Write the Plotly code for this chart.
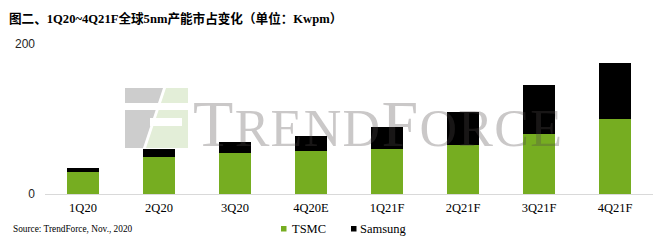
import plotly.graph_objects as go

quarters = ["1Q20", "2Q20", "3Q20", "4Q20E", "1Q21F", "2Q21F", "3Q21F", "4Q21F"]
tsmc = [30, 50, 55, 58, 60, 65, 80, 100]
samsung = [5, 10, 15, 20, 30, 45, 65, 75]
series_names = ["TSMC", "Samsung"]
colors = ["#76AD21", "#000000"]

W, H = 666, 244
L, R, T, B = 45, 13, 44, 50
PW, PH = W - L - R, H - T - B


def px(x):
    return (x - L) / PW


def py(y):
    return (H - B - y) / PH


fig = go.Figure()
for name, vals, col in zip(series_names, [tsmc, samsung], colors):
    fig.add_trace(go.Bar(x=quarters, y=vals, name=name, marker_color=col,
                         marker_line_width=0, width=0.41, showlegend=False))

serif = "Liberation Serif, Times New Roman, serif"

shapes = []
# watermark logo (decorative)
shapes.append(dict(type="path", xref="paper", yref="paper", layer="below",
                   path=f"M {px(125)},{py(88)} L {px(163)},{py(88)} L {px(143)},{py(148)} L {px(125)},{py(148)} Z",
                   fillcolor="#cdcdcd", line_width=0))
shapes.append(dict(type="path", xref="paper", yref="paper", layer="below",
                   path=f"M {px(166)},{py(88)} L {px(188)},{py(88)} L {px(188)},{py(148)} L {px(146)},{py(148)} Z",
                   fillcolor="#e3eed8", line_width=0))
shapes.append(dict(type="rect", xref="paper", yref="paper", layer="below",
                   x0=px(124), x1=px(189), y0=py(110), y1=py(103), fillcolor="white", line_width=0))
shapes.append(dict(type="rect", xref="paper", yref="paper", layer="below",
                   x0=px(150), x1=px(182), y0=py(126), y1=py(118), fillcolor="white", line_width=0))
# legend squares
shapes.append(dict(type="rect", xref="paper", yref="paper",
                   x0=px(281), x1=px(286.5), y0=py(231.5), y1=py(226), fillcolor=colors[0], line_width=0))
shapes.append(dict(type="rect", xref="paper", yref="paper",
                   x0=px(351), x1=px(356.5), y0=py(231.5), y1=py(226), fillcolor=colors[1], line_width=0))

annotations = [
    dict(text="<b>图二、1Q20~4Q21F全球5nm产能市占变化（单位：Kwpm）</b>", xref="paper", yref="paper",
         x=px(7), y=py(18), xanchor="left", yanchor="middle", showarrow=False,
         font=dict(family="Liberation Serif, Noto Sans CJK SC", size=12.6, color="#000000")),
    dict(text="Source: TrendForce, Nov., 2020", xref="paper", yref="paper",
         x=px(11), y=py(228.5), xanchor="left", yanchor="middle", showarrow=False,
         font=dict(family=serif, size=9.3, color="#000000")),
    dict(text=series_names[0], xref="paper", yref="paper",
         x=px(290), y=py(228.5), xanchor="left", yanchor="middle", showarrow=False,
         font=dict(family=serif, size=12.5, color="#000000")),
    dict(text=series_names[1], xref="paper", yref="paper",
         x=px(358), y=py(228.5), xanchor="left", yanchor="middle", showarrow=False,
         font=dict(family=serif, size=12.5, color="#000000")),
    dict(text="<span style='letter-spacing:1.3px'><span style='font-size:66px'>T</span>REND"
              "<span style='font-size:66px'>F</span>ORCE</span>",
         xref="paper", yref="paper", x=px(191), y=py(162), xanchor="left", yanchor="bottom",
         showarrow=False, font=dict(family=serif, size=52, color="rgba(80,72,72,0.3)")),
]

fig.update_layout(
    barmode="stack",
    width=W, height=H,
    margin=dict(l=L, r=R, t=T, b=B, pad=0),
    paper_bgcolor="white", plot_bgcolor="white",
    bargap=0.59,
    shapes=shapes,
    annotations=annotations,
    xaxis=dict(showgrid=False, showline=False, ticks="",
               tickfont=dict(family=serif, size=12.5, color="#000000"),
               ticklabelstandoff=4, range=[-0.5, 7.5]),
    yaxis=dict(range=[0, 200], tickvals=[0, 200], showgrid=True, gridcolor="#d9d9d9",
               gridwidth=1, zeroline=True, zerolinecolor="#d9d9d9", zerolinewidth=1,
               showline=False, ticks="", ticklabelstandoff=9,
               tickfont=dict(family="Liberation Sans, Arial", size=12, color="#262626")),
)

fig.write_html("out.html")
